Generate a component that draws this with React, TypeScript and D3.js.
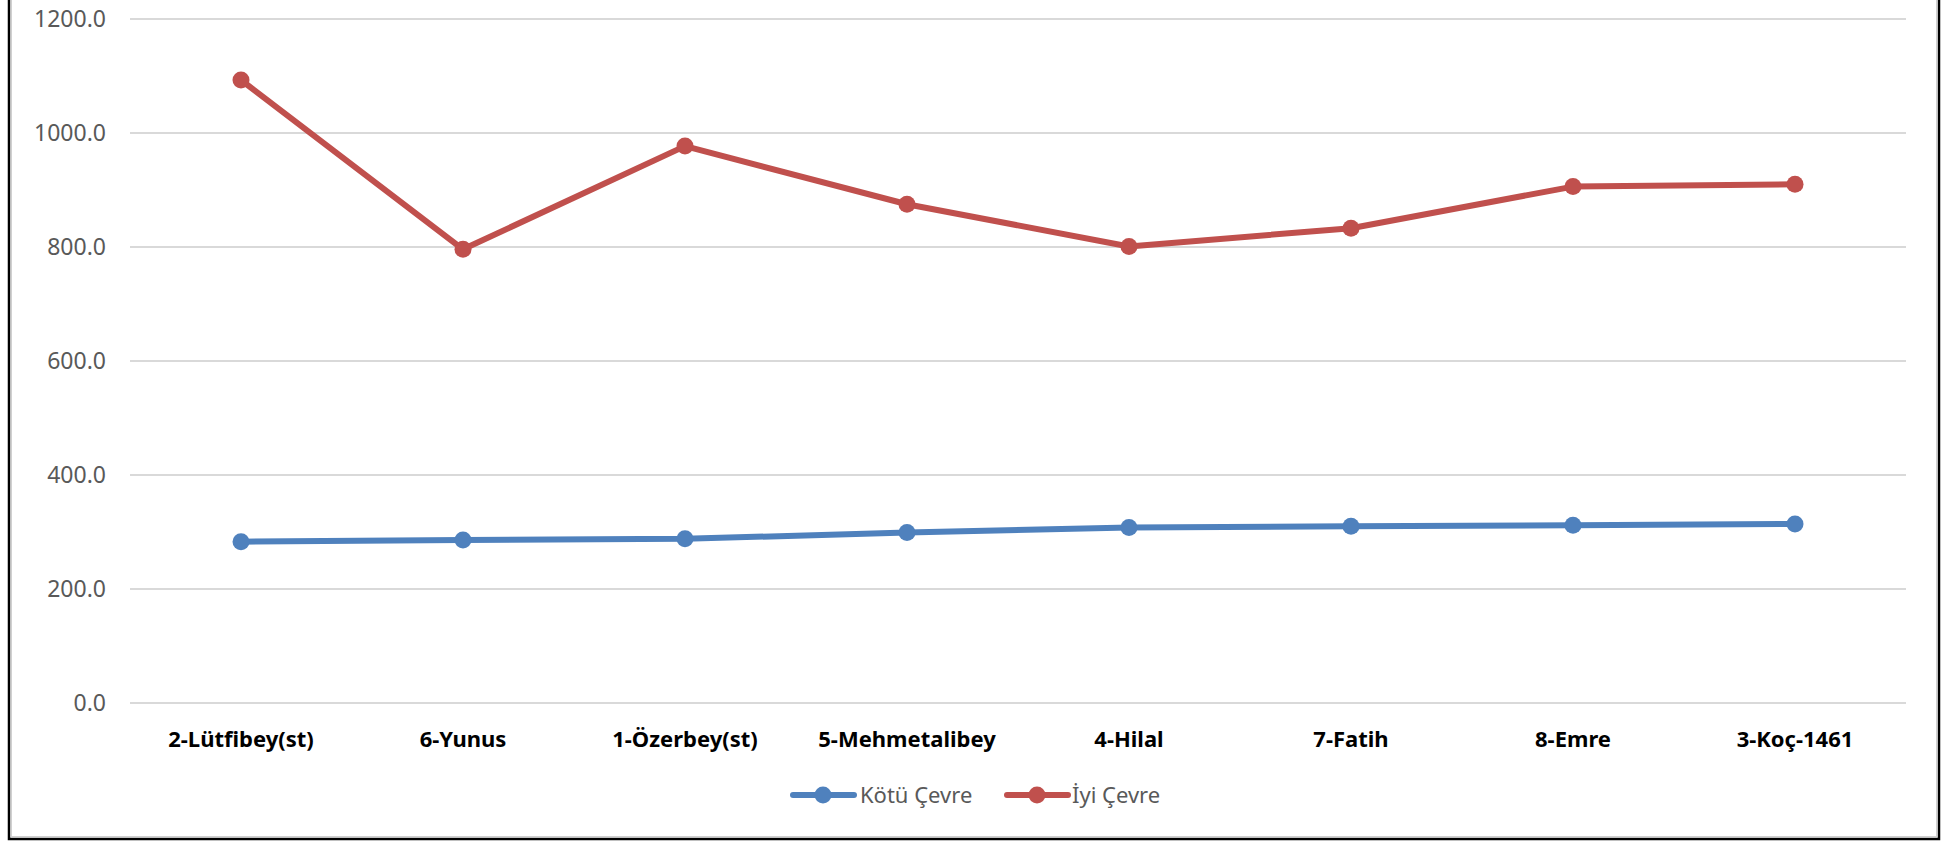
import React from "react";
import * as d3 from "d3";

const categories = ["2-Lütfibey(st)", "6-Yunus", "1-Özerbey(st)", "5-Mehmetalibey", "4-Hilal", "7-Fatih", "8-Emre", "3-Koç-1461"];
const kotuCevre = [283, 286, 288, 299, 308, 310, 312, 314];
const iyiCevre = [1093, 796, 977, 875, 801, 833, 906, 910];
const yTicks = [0, 200, 400, 600, 800, 1000, 1200];
const seriesNames = ["Kötü Çevre", "İyi Çevre"];
const seriesColors = ["#4F81BD", "#C0504D"];

const W = 1950;
const H = 841;
const FONT = "'Noto Sans', 'Open Sans', sans-serif";

export default function App() {
  const x = d3.scaleBand<string>().domain(categories).range([130, 1906]);
  const y = d3.scaleLinear().domain([0, 1200]).range([703, 19]);
  const line = d3
    .line<number>()
    .x((_, i) => (x(categories[i]) as number) + x.bandwidth() / 2)
    .y((d) => y(d));
  const series = [kotuCevre, iyiCevre];

  const legendItems = [
    { lx: 793, tx: 860 },
    { lx: 1007, tx: 1072 },
  ];
  const legendY = 795;

  return (
    <svg
      width={W}
      height={H}
      style={{ position: "absolute", left: 0, top: 0, display: "block", background: "#fff" }}
    >
      <rect x={0} y={0} width={W} height={H} fill="#fff" />
      {/* frame */}
      <rect x={9} y={-10} width={1930} height={849} fill="none" stroke="#000" strokeWidth={2.5} />
      <rect x={11.5} y={-10} width={1925} height={846.5} fill="none" stroke="#d0d0d0" strokeWidth={1} />
      {/* gridlines */}
      {yTicks.map((t) => (
        <line key={t} x1={130} x2={1906} y1={y(t)} y2={y(t)} stroke="#D9D9D9" strokeWidth={2} />
      ))}
      {/* y labels */}
      {yTicks.map((t) => (
        <text
          key={"l" + t}
          x={106}
          y={y(t) + 8}
          textAnchor="end"
          fontFamily={FONT}
          fontSize={23}
          fill="#595959"
        >
          {t.toFixed(1)}
        </text>
      ))}
      {/* x labels */}
      {categories.map((c) => (
        <text
          key={c}
          x={(x(c) as number) + x.bandwidth() / 2}
          y={747}
          textAnchor="middle"
          fontFamily={FONT}
          fontWeight="bold"
          fontSize={22}
          fill="#000"
        >
          {c}
        </text>
      ))}
      {/* series */}
      {series.map((s, si) => (
        <g key={si}>
          <path d={line(s) || ""} fill="none" stroke={seriesColors[si]} strokeWidth={6} strokeLinejoin="round" strokeLinecap="round" />
          {s.map((v, i) => (
            <circle
              key={i}
              cx={(x(categories[i]) as number) + x.bandwidth() / 2}
              cy={y(v)}
              r={8.5}
              fill={seriesColors[si]}
            />
          ))}
        </g>
      ))}
      {/* legend */}
      {legendItems.map((li, i) => (
        <g key={i}>
          <line x1={li.lx} x2={li.lx + 61} y1={legendY} y2={legendY} stroke={seriesColors[i]} strokeWidth={6} strokeLinecap="round" />
          <circle cx={li.lx + 30} cy={legendY} r={8.5} fill={seriesColors[i]} />
          <text x={li.tx} y={legendY + 8} fontFamily={FONT} fontSize={22} fill="#595959">
            {seriesNames[i]}
          </text>
        </g>
      ))}
    </svg>
  );
}
